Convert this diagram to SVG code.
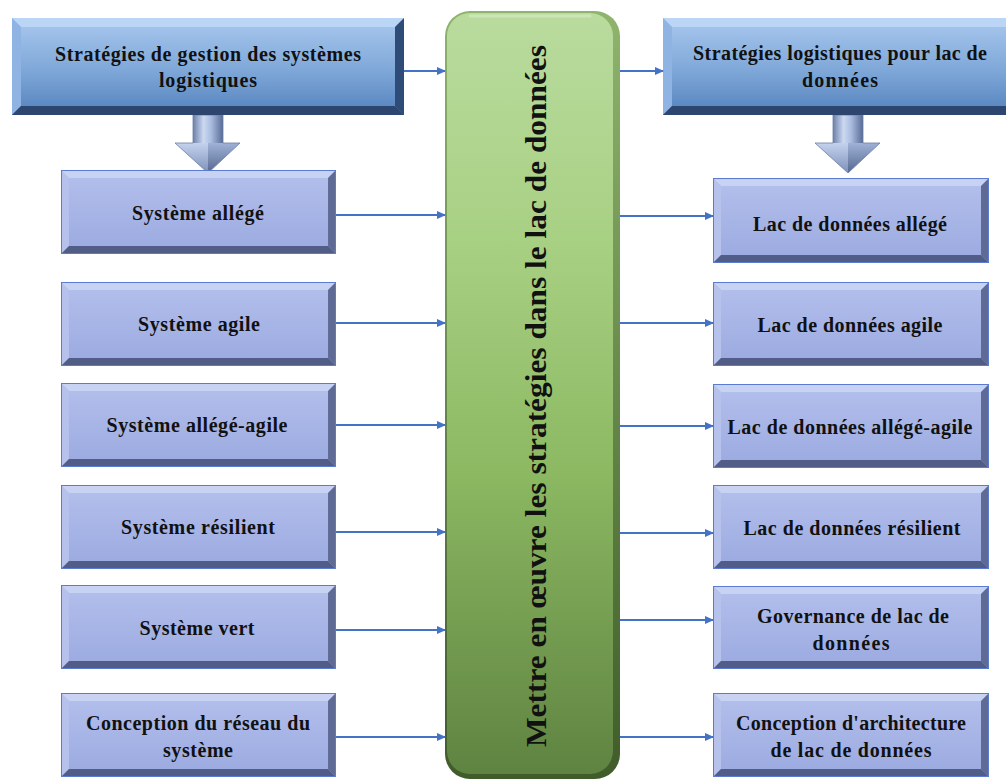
<svg xmlns="http://www.w3.org/2000/svg" xmlns:xlink="http://www.w3.org/1999/xlink" width="1006" height="780" viewBox="0 0 1006 780">
  <defs>
    <style>
      .lbl { font-family: "Liberation Serif", "Times New Roman", serif; font-weight: bold; font-size: 20px; fill: #111; text-anchor: middle; }
      .big { font-family: "Liberation Serif", "Times New Roman", serif; font-weight: bold; font-size: 30px; fill: #111; text-anchor: middle; }
      .conn { stroke: #4472c4; stroke-width: 2; fill: none; marker-end: url(#tip); }
    </style>
    <marker id="tip" markerUnits="userSpaceOnUse" markerWidth="9" markerHeight="8" refX="8" refY="4" orient="auto">
      <path d="M0,0 L9,4 L0,8 z" fill="#4472c4"/>
    </marker>
    <!-- face gradients -->
    <linearGradient id="faceSmall" x1="0" y1="0" x2="0" y2="1">
      <stop offset="0" stop-color="#b4c0ec"/>
      <stop offset="1" stop-color="#9aa9e0"/>
    </linearGradient>
    <linearGradient id="faceTop" x1="0" y1="0" x2="0" y2="1">
      <stop offset="0" stop-color="#a9c8ee"/>
      <stop offset="0.55" stop-color="#7ea7d8"/>
      <stop offset="1" stop-color="#5382bd"/>
    </linearGradient>
    <linearGradient id="green" x1="0" y1="0" x2="0" y2="1">
      <stop offset="0" stop-color="#b9db9e"/>
      <stop offset="0.3" stop-color="#a8d083"/>
      <stop offset="0.6" stop-color="#8cb962"/>
      <stop offset="1" stop-color="#5f8341"/>
    </linearGradient>
    <linearGradient id="greenEdge" x1="0" y1="0" x2="0" y2="1">
      <stop offset="0" stop-color="#8fb46d"/>
      <stop offset="1" stop-color="#3f5c2a"/>
    </linearGradient>
    <linearGradient id="shaft" x1="0" y1="0" x2="1" y2="0">
      <stop offset="0" stop-color="#6c80aa"/>
      <stop offset="0.35" stop-color="#cbd9f1"/>
      <stop offset="0.6" stop-color="#aabce0"/>
      <stop offset="1" stop-color="#586b94"/>
    </linearGradient>
    <linearGradient id="headL" x1="0" y1="0" x2="0" y2="1">
      <stop offset="0" stop-color="#c3d2ee"/>
      <stop offset="1" stop-color="#7d90b8"/>
    </linearGradient>
    <linearGradient id="headR" x1="0" y1="0" x2="0" y2="1">
      <stop offset="0" stop-color="#9fb1d6"/>
      <stop offset="1" stop-color="#55688f"/>
    </linearGradient>

    <!-- bevelled light box, 276 x 84 -->
    <symbol id="smallBox" viewBox="0 0 276 84" preserveAspectRatio="none">
      <rect x="0" y="0" width="276" height="84" fill="url(#faceSmall)"/>
      <polygon points="0,0 276,0 268,8 8,8" fill="#c8d2f3"/>
      <polygon points="0,0 8,8 8,76 0,84" fill="#b6c1ec"/>
      <polygon points="276,0 276,84 268,76 268,8" fill="#5f6b95"/>
      <polygon points="0,84 276,84 268,76 8,76" fill="#515d86"/>
      <rect x="0.5" y="0.5" width="275" height="83" fill="none" stroke="#5a7bd0" stroke-width="1"/>
    </symbol>

    <!-- block arrow pointing down, 65 x 58 -->
    <symbol id="blockArrow" viewBox="0 0 65 58">
      <rect x="18" y="0" width="30" height="29" fill="url(#shaft)"/>
      <polygon points="0,28 33,28 33,58" fill="url(#headL)"/>
      <polygon points="33,28 65,28 33,58" fill="url(#headR)"/>
      <polygon points="18,0 48,0 48,28 65,28 33,58 0,28 18,28" fill="none" stroke="#6b7ea6" stroke-width="0.8"/>
    </symbol>
  </defs>

  <rect width="1006" height="780" fill="#ffffff"/>

  <!-- central column -->
  <g id="centre">
    <rect x="445" y="11" width="175" height="768" rx="25" ry="25" fill="url(#greenEdge)"/>
    <rect x="447" y="13" width="166" height="761" rx="23" ry="23" fill="url(#green)"/>
    <path d="M470,16 L590,16" stroke="#d3e9bf" stroke-width="3" stroke-linecap="round" opacity="0.8"/>
    <text class="big" transform="translate(546,396) rotate(-90)" textLength="702" lengthAdjust="spacingAndGlyphs">Mettre en œuvre les stratégies dans le lac de données</text>
  </g>

  <!-- top left header -->
  <g id="head-left">
    <rect x="12" y="18" width="392" height="97" fill="url(#faceTop)"/>
    <polygon points="12,18 404,18 395,27 21,27" fill="#bad5f6"/>
    <polygon points="12,18 21,27 21,106 12,115" fill="#8fb4e3"/>
    <polygon points="404,18 404,115 395,106 395,27" fill="#2f4c78"/>
    <polygon points="12,115 404,115 395,106 21,106" fill="#2c466f"/>
    <text class="lbl" x="208" y="61" textLength="306" lengthAdjust="spacing">Stratégies de gestion des systèmes</text>
    <text class="lbl" x="208" y="87" textLength="98" lengthAdjust="spacing">logistiques</text>
  </g>

  <!-- top right header -->
  <g id="head-right">
    <rect x="663" y="18" width="343" height="97" fill="url(#faceTop)"/>
    <polygon points="663,18 1006,18 1006,27 672,27" fill="#bad5f6"/>
    <polygon points="663,18 672,27 672,106 663,115" fill="#8fb4e3"/>
    <polygon points="663,115 1006,115 1006,106 672,106" fill="#2c466f"/>
    <text class="lbl" x="840" y="60" textLength="294" lengthAdjust="spacing">Stratégies logistiques pour lac de</text>
    <text class="lbl" x="840" y="87" textLength="76" lengthAdjust="spacing">données</text>
  </g>

  <g id="down-left"><use xlink:href="#blockArrow" href="#blockArrow" x="175" y="115" width="65" height="58"/></g>
  <g id="down-right"><use xlink:href="#blockArrow" href="#blockArrow" x="815" y="115" width="65" height="58"/></g>

  <!-- left column -->
  <g id="sys-allege">
    <use xlink:href="#smallBox" href="#smallBox" x="61" y="170" width="275" height="84"/>
    <text class="lbl" x="198" y="220" textLength="132" lengthAdjust="spacing">Système allégé</text>
  </g>
  <g id="sys-agile">
    <use xlink:href="#smallBox" href="#smallBox" x="61" y="282" width="275" height="84"/>
    <text class="lbl" x="199" y="331" textLength="122" lengthAdjust="spacing">Système agile</text>
  </g>
  <g id="sys-allege-agile">
    <use xlink:href="#smallBox" href="#smallBox" x="61" y="383" width="275" height="84"/>
    <text class="lbl" x="197" y="432" textLength="181" lengthAdjust="spacing">Système allégé-agile</text>
  </g>
  <g id="sys-resilient">
    <use xlink:href="#smallBox" href="#smallBox" x="61" y="485" width="275" height="84"/>
    <text class="lbl" x="198" y="534" textLength="154" lengthAdjust="spacing">Système résilient</text>
  </g>
  <g id="sys-vert">
    <use xlink:href="#smallBox" href="#smallBox" x="61" y="585" width="275" height="84"/>
    <text class="lbl" x="197" y="635" textLength="115" lengthAdjust="spacing">Système vert</text>
  </g>
  <g id="sys-reseau">
    <use xlink:href="#smallBox" href="#smallBox" x="61" y="693" width="275" height="84"/>
    <text class="lbl" x="198" y="730" textLength="224" lengthAdjust="spacing">Conception du réseau du</text>
    <text class="lbl" x="198" y="757" textLength="70" lengthAdjust="spacing">système</text>
  </g>

  <!-- right column -->
  <g id="lac-allege">
    <use xlink:href="#smallBox" href="#smallBox" x="713" y="178" width="276" height="85"/>
    <text class="lbl" x="850" y="231" textLength="194" lengthAdjust="spacing">Lac de données allégé</text>
  </g>
  <g id="lac-agile">
    <use xlink:href="#smallBox" href="#smallBox" x="713" y="282" width="276" height="84"/>
    <text class="lbl" x="850" y="332" textLength="185" lengthAdjust="spacing">Lac de données agile</text>
  </g>
  <g id="lac-allege-agile">
    <use xlink:href="#smallBox" href="#smallBox" x="713" y="384" width="276" height="84"/>
    <text class="lbl" x="850" y="434" textLength="245" lengthAdjust="spacing">Lac de données allégé-agile</text>
  </g>
  <g id="lac-resilient">
    <use xlink:href="#smallBox" href="#smallBox" x="713" y="485" width="276" height="84"/>
    <text class="lbl" x="852" y="535" textLength="217" lengthAdjust="spacing">Lac de données résilient</text>
  </g>
  <g id="lac-gouvernance">
    <use xlink:href="#smallBox" href="#smallBox" x="713" y="586" width="276" height="83"/>
    <text class="lbl" x="853" y="623" textLength="192" lengthAdjust="spacing">Governance de lac de</text>
    <text class="lbl" x="851" y="650" textLength="77" lengthAdjust="spacing">données</text>
  </g>
  <g id="lac-architecture">
    <use xlink:href="#smallBox" href="#smallBox" x="713" y="693" width="276" height="84"/>
    <text class="lbl" x="851" y="730" textLength="230" lengthAdjust="spacing">Conception d'architecture</text>
    <text class="lbl" x="851" y="757" textLength="161" lengthAdjust="spacing">de lac de données</text>
  </g>

  <!-- connectors -->
  <g id="connectors">
    <line class="conn" x1="404" y1="71" x2="445" y2="71"/>
    <line class="conn" x1="336" y1="215" x2="445" y2="215"/>
    <line class="conn" x1="336" y1="323" x2="445" y2="323"/>
    <line class="conn" x1="336" y1="425" x2="445" y2="425"/>
    <line class="conn" x1="336" y1="532" x2="445" y2="532"/>
    <line class="conn" x1="336" y1="630" x2="445" y2="630"/>
    <line class="conn" x1="336" y1="737" x2="445" y2="737"/>
    <line class="conn" x1="620" y1="71" x2="663" y2="71"/>
    <line class="conn" x1="620" y1="216" x2="713" y2="216"/>
    <line class="conn" x1="620" y1="323" x2="713" y2="323"/>
    <line class="conn" x1="620" y1="426" x2="713" y2="426"/>
    <line class="conn" x1="620" y1="533" x2="713" y2="533"/>
    <line class="conn" x1="620" y1="620" x2="713" y2="620"/>
    <line class="conn" x1="620" y1="737" x2="713" y2="737"/>
  </g>
</svg>
